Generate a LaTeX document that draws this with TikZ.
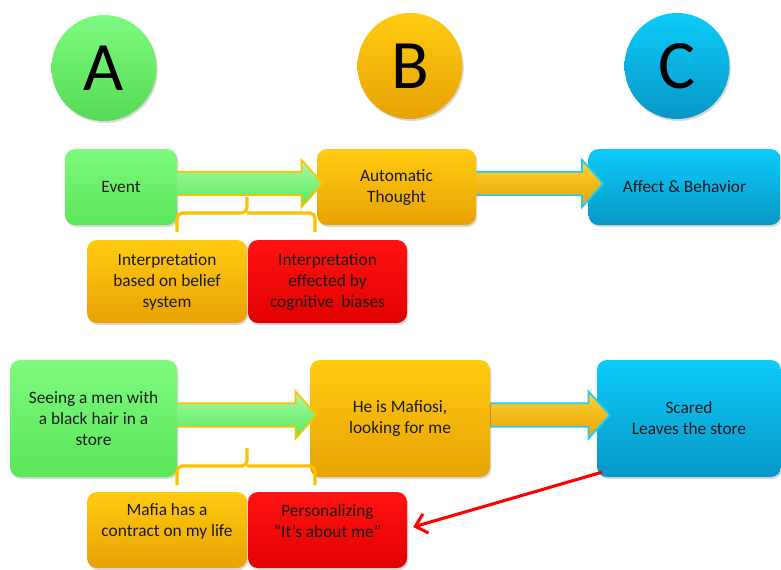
\documentclass[tikz,border=0pt]{standalone}
\usepackage{fontspec}
\setmainfont{Carlito}
\usetikzlibrary{shapes.geometric,arrows.meta,calc,shadows}
\definecolor{gT}{HTML}{7EFA7E}
\definecolor{gB}{HTML}{5AE65A}
\definecolor{oT}{HTML}{FFCB10}
\definecolor{oB}{HTML}{E8A204}
\definecolor{cT}{HTML}{0CCBFA}
\definecolor{cB}{HTML}{0897C6}
\definecolor{rT}{HTML}{FF1212}
\definecolor{rB}{HTML}{E20000}
\definecolor{brc}{HTML}{FFC000}
\definecolor{cyl}{HTML}{22CCF2}
\definecolor{txt}{HTML}{1A1A1A}
\newcommand\blockarrow[4]{%
  \fill let \p1=(#1),\p2=(#2) in [#3]
    (\x1,\y1+8.8pt) -- (\x2-16pt,\y1+8.8pt) -- (\x2-16pt,\y1+17.8pt) -- (\x2,\y1)
    -- (\x2-16pt,\y1-17.8pt) -- (\x2-16pt,\y1-8.8pt) -- (\x1,\y1-8.8pt) -- cycle;
  \draw let \p1=(#1),\p2=(#2) in [draw=#4, line width=1.3pt, line join=miter]
    (\x1,\y1+8.8pt) -- (\x2-16pt,\y1+8.8pt) -- (\x2-16pt,\y1+17.8pt) -- (\x2,\y1)
    -- (\x2-16pt,\y1-17.8pt) -- (\x2-16pt,\y1-8.8pt) -- (\x1,\y1-8.8pt);}
\begin{document}
\begin{tikzpicture}[x=0.75pt,y=-0.75pt,
  sh/.style={drop shadow={opacity=0.3,shadow xshift=1pt,shadow yshift=-1.5pt}},
  box/.style={rectangle,rounded corners=7.5pt,inner sep=2pt,align=center,sh,
    font=\fontsize{13}{15.75}\selectfont,text=txt},
  wh/.style 2 args={minimum width={#1*0.75pt},minimum height={#2*0.75pt}},
  gbox/.style={box,top color=gT,bottom color=gB},
  obox/.style={box,top color=oT,bottom color=oB},
  cbox/.style={box,top color=cT,bottom color=cB},
  rbox/.style={box,top color=rT,bottom color=rB},
  circ/.style={ellipse,minimum width={105*0.75pt},minimum height={106*0.75pt},
    inner sep=0pt,sh,font=\fontsize{52}{52}\selectfont,text=black},
  ltxt/.style={align=center,inner sep=0pt,font=\fontsize{13}{15.75}\selectfont,text=txt},
  brace/.style={draw=brc,line width=2.4pt,rounded corners=4pt},
  garrow/.style={top color=gT!70!white,bottom color=gB},
  yarrow/.style={top color=oT!85!white,bottom color=oB},
]
\useasboundingbox (0,0) rectangle (781,569);
% circles
\node[circ,top color=gT,bottom color=gB!95!black] (A) at (104,68) {A};
\node[circ,top color=oT,bottom color=oB] (B) at (410,66) {B};
\node[circ,top color=cT,bottom color=cB] (C) at (677,66) {C};
% top row
\node[gbox,wh={112}{76}] (ev) at (121,187) {Event};
\node[obox,wh={159}{76}] (at) at (396.5,187) {Automatic\\Thought};
\node[cbox,wh={192}{76}] (ab) at (684.5,187) {Affect \& Behavior};
\node[obox,wh={160}{83}] (ib) at (167,281.5) {Interpretation\\based on belief\\system};
\node[rbox,wh={159}{83}] (ie) at (327.5,281.5) {Interpretation\\effected by\\cognitive\ \ biases};
% bottom row
\node[gbox,wh={167}{117}] (se) at (93.5,418.5) {Seeing a men with\\a black hair in a\\store};
\node[obox,wh={180}{117}] (hm) at (400,418.5) {He is Mafiosi,\\looking for me};
\node[cbox,wh={184}{117}] (sc) at (689,418.5) {Scared\\Leaves the store};
\node[obox,wh={160}{76}] (mf) at (167,530) {};
\node[rbox,wh={159}{76}] (pe) at (327.5,530) {};
\node[ltxt] (mft) at (167,521.5) {Mafia has a\\contract on my life};
\node[ltxt] (pet) at (327.5,521.5) {Personalizing\\“It’s about me”};
% block arrows
\blockarrow{$(ev.east)+(0,-3.5)$}{$(at.west)+(6,0)$}{garrow}{brc}
\blockarrow{$(at.east)+(0,-3.5)$}{$(ab.west)+(15,0)$}{yarrow}{cyl}
\blockarrow{$(se.east)+(0,-3.5)$}{$(hm.west)+(7,0)$}{garrow}{brc}
\blockarrow{$(hm.east)+(0,-3.5)$}{$(sc.west)+(13,0)$}{yarrow}{cyl}
% braces
\draw[brace] (177,232) -- (177,213) -- (247,213) -- (247,197);
\draw[brace] (247,213) -- (315,213) -- (315,232);
\draw[brace] (177,485) -- (177,466) -- (247,466) -- (247,448);
\draw[brace] (247,466) -- (315,466) -- (315,485);
% red arrow
\draw[red,line width=2.3pt,-{Straight Barb[length=8pt,width=15pt]}]
  ($(sc.south west)+(5,-5)$) -- ($(pe.east)+(6,-3)$);
\end{tikzpicture}
\end{document}
